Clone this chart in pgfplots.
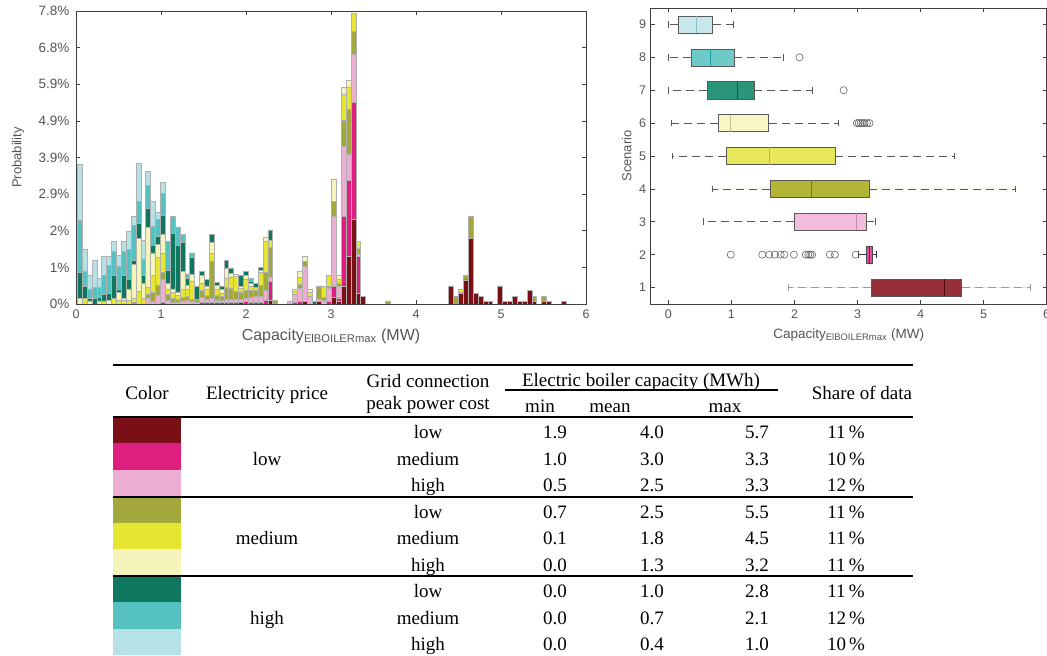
\documentclass[border=0pt]{standalone}
\usepackage{pgfplots}
\pgfplotsset{compat=1.18}
\usepackage{pgfplotstable}
\usepgfplotslibrary{statistics}
\usepackage{fontspec}
\setmainfont{Liberation Serif}
\newfontfamily\sansax{Liberation Sans}

\definecolor{c1}{HTML}{7A1016}
\definecolor{c2}{HTML}{DF1F80}
\definecolor{c3}{HTML}{ECAED0}
\definecolor{c4}{HTML}{A2A83A}
\definecolor{c5}{HTML}{E6E532}
\definecolor{c6}{HTML}{F5F4BB}
\definecolor{c7}{HTML}{0E775D}
\definecolor{c8}{HTML}{55C2C1}
\definecolor{c9}{HTML}{B6E1E6}
\definecolor{b1}{HTML}{952F39}
\definecolor{b2}{HTML}{E84A9C}
\definecolor{b3}{HTML}{F0BEDB}
\definecolor{b4}{HTML}{B2B536}
\definecolor{b5}{HTML}{E8E85C}
\definecolor{b6}{HTML}{F7F6C4}
\definecolor{b7}{HTML}{2B957A}
\definecolor{b8}{HTML}{6EC9C9}
\definecolor{b9}{HTML}{C7E8EB}
\definecolor{m1}{HTML}{5A0A10}
\definecolor{m2}{HTML}{A0105A}
\definecolor{m3}{HTML}{C08AA8}
\definecolor{m4}{HTML}{7A7E20}
\definecolor{m5}{HTML}{B8B830}
\definecolor{m6}{HTML}{C8C690}
\definecolor{m7}{HTML}{0A5A45}
\definecolor{m8}{HTML}{1AA0A0}
\definecolor{m9}{HTML}{90C0C5}
\definecolor{axc}{HTML}{404040}
\definecolor{tlc}{HTML}{555555}

\pgfplotstableread{
x s1 s2 s3 s4 s5 s6 s7 s8 s9
0.045 0 0 0 0 0 0.15 0.70 1.38 1.48
0.1025 0 0 0 0 0.15 0 0.31 0.40 0.59
0.16 0 0 0 0 0 0.08 0.07 0.25 0.35
0.2175 0 0 0 0 0 0 0.15 0.30 0.71
0.275 0 0 0 0 0 0.08 0.10 0.25 0.25
0.3325 0 0 0 0 0.08 0 0.18 0.50 0.52
0.39 0 0 0 0 0 0.10 0.18 0.75 0.25
0.4475 0 0 0 0 0.15 0 0.62 0.62 0.27
0.505 0 0 0 0 0.10 0.20 0.10 0.60 0.30
0.5625 0 0 0 0 0.10 0.05 0.60 0.66 0.25
0.62 0 0 0 0 0.10 0.30 0.25 0.80 0.49
0.6775 0 0 0 0.05 0.10 0.90 0.10 0.95 0.24
0.735 0 0 0 0 0.33 1.42 0.40 0.58 1.00
0.7925 0 0 0 0 0.15 0.40 0.20 0.45 0.50
0.85 0 0 0.15 0.10 0.20 1.60 0.50 0.60 0.37
0.9075 0 0 0.06 0.25 0.45 0.60 0.20 0.50 0.66
0.965 0 0 0.24 0.25 0.75 0.35 0.20 0.45 0.20
1.0225 0 0.05 0.60 0.20 0.50 0.50 0.50 0.60 0.28
1.08 0 0 0.10 0.15 0.15 0.15 0.35 0.77 0
1.1375 0 0 0.05 0.10 0.15 0.10 1.48 0.46 0
1.195 0 0 0.05 0.07 0.10 0.10 1.24 0.49 0
1.2525 0 0 0.08 0.10 0.20 0.48 0.78 0.21 0
1.31 0 0 0.09 0.10 0.20 0.10 0.18 0.12 0
1.3675 0 0 0.07 0.05 0.47 0.20 0.46 0.11 0
1.425 0 0 0.05 0.06 0 0 0.37 0 0
1.4825 0 0.05 0.12 0.20 0.18 0.20 0.11 0 0
1.54 0 0.05 0.08 0.10 0.15 0.10 0.18 0 0
1.5975 0 0.04 0.10 1.00 0.20 0.30 0.21 0 0
1.655 0 0.04 0.06 0.14 0.15 0.10 0.08 0 0
1.7125 0 0.04 0.06 0.10 0.08 0.10 0.10 0 0
1.77 0 0.05 0.08 0.30 0.25 0.28 0.20 0 0
1.8275 0 0.04 0.08 0.30 0.30 0.10 0.14 0 0
1.885 0 0.05 0.08 0.20 0.40 0.05 0 0 0
1.9425 0.05 0 0.07 0.20 0.10 0.05 0.30 0 0
2.0 0 0.06 0.10 0.20 0.30 0.10 0.10 0 0
2.0575 0 0.05 0.12 0.20 0.10 0.08 0.05 0.08 0
2.115 0 0.05 0.15 0.15 0.10 0 0.10 0 0
2.1725 0 0.05 0.15 0.30 0.35 0.05 0.08 0 0
2.23 0 0.10 0.25 0.50 0.82 0.10 0 0 0
2.2875 0.10 0.50 0.10 0.80 0.20 0 0.27 0 0
2.345 0 0 0 0.10 0 0 0 0 0
2.5175 0 0 0.08 0 0 0 0 0 0
2.575 0 0.05 0.20 0 0.08 0.06 0 0 0
2.6325 0 0.06 0.35 0.10 0.20 0.15 0 0 0
2.69 0.06 0 0.95 0.13 0 0.12 0 0 0
2.7475 0 0 0.20 0 0.10 0.09 0 0 0
2.805 0 0 0 0 0 0 0.08 0 0
2.8625 0.06 0 0.06 0.36 0 0 0 0 0
2.92 0 0 0.10 0.08 0.30 0 0 0 0
2.9775 0 0.06 0.35 0.06 0.30 0 0 0 0
3.035 0.17 0.31 1.85 0.40 0 0.59 0 0 0
3.0925 0.06 0.10 0.31 0.09 0.09 0.12 0 0 0
3.15 0.48 1.85 1.86 0.69 0.69 0.20 0 0 0
3.2075 1.26 2.04 0.69 1.19 0.58 0.20 0 0 0
3.265 2.24 3.12 1.29 0.60 0.49 0 0 0 0
3.3225 0.28 0.98 0.05 0.17 0.18 0 0 0 0
3.38 0.20 0 0 0 0 0 0 0 0
3.6675 0 0 0 0.08 0 0 0 0 0
4.415 0.48 0 0 0 0 0 0 0 0
4.4725 0 0 0 0.20 0 0 0 0 0
4.53 0.28 0 0 0.03 0.08 0 0 0 0
4.5875 0.64 0 0 0.13 0 0 0 0 0
4.645 1.75 0 0 0.59 0 0 0 0 0
4.7025 0.27 0 0 0 0 0 0 0 0
4.76 0.20 0 0 0 0 0 0 0 0
4.8175 0.06 0 0 0 0 0 0 0 0
4.875 0.06 0 0 0 0 0 0 0 0
4.99 0.48 0 0 0 0 0 0 0 0
5.0475 0.06 0 0 0 0 0 0 0 0
5.105 0.06 0 0 0 0 0 0 0 0
5.1625 0.20 0 0 0 0 0 0 0 0
5.22 0.06 0 0 0 0 0 0 0 0
5.2775 0.06 0 0 0 0 0 0 0 0
5.335 0.37 0 0 0 0 0 0 0 0
5.3925 0.07 0 0 0.13 0 0 0 0 0
5.5075 0.07 0 0 0.13 0 0 0 0 0
5.565 0.06 0 0 0 0 0 0 0 0
5.7375 0.06 0 0 0 0 0 0 0 0
}\histdata

\pgfplotsset{
  panel/.style={
    scale only axis,
    axis line style={axc, line width=0.7pt},
    tick style={axc, line width=0.6pt},
    major tick length=4pt,
    tick align=inside,
    /pgf/number format/assume math mode=true,
    tick label style={font=\sansax\fontsize{12.5}{14}\selectfont, text=tlc},
  },
}

\begin{document}
\begin{tikzpicture}
\path[use as bounding box] (0,0) rectangle (1047pt,656pt);

% ---------------- histogram ----------------
\begin{axis}[panel,
  at={(76pt,352pt)}, anchor=south west,
  width=510pt, height=293pt,
  xmin=0, xmax=6, ymin=0, ymax=7.8,
  ybar stacked, bar width=0.0575,
  xtick={0,1,2,3,4,5,6},
  ytick={0,0.975,1.95,2.925,3.9,4.875,5.85,6.825,7.8},
  yticklabels={0\%,1\%,2\%,2.9\%,3.9\%,4.9\%,5.9\%,6.8\%,7.8\%},
  xticklabel style={yshift=-2pt},
  yticklabel style={xshift=-3pt, font=\sansax\fontsize{13.5}{15}\selectfont},
  xlabel={Capacity\textsubscript{ElBOILERmax} (MW)},
  ylabel={Probability},
  every axis x label/.style={at={(axis description cs:0.5,-0.1229)}, anchor=base, font=\sansax\fontsize{16}{18}\selectfont, text=tlc},
  every axis y label/.style={at={(axis description cs:-0.1137,0.5)}, anchor=center, rotate=90, font=\sansax\fontsize{13}{15}\selectfont, text=tlc},
  every axis plot/.append style={draw=gray!62, line width=0.8pt},
]
\addplot[fill=c1] table[x=x,y=s1]{\histdata};
\addplot[fill=c2] table[x=x,y=s2]{\histdata};
\addplot[fill=c3] table[x=x,y=s3]{\histdata};
\addplot[fill=c4] table[x=x,y=s4]{\histdata};
\addplot[fill=c5] table[x=x,y=s5]{\histdata};
\addplot[fill=c6] table[x=x,y=s6]{\histdata};
\addplot[fill=c7] table[x=x,y=s7]{\histdata};
\addplot[fill=c8] table[x=x,y=s8]{\histdata};
\addplot[fill=c9] table[x=x,y=s9]{\histdata};
\end{axis}

% ---------------- boxplots ----------------
\begin{axis}[panel,
  at={(650.7pt,352pt)}, anchor=south west,
  width=396pt, height=296pt,
  xmin=-0.28, xmax=6, ymin=0.5, ymax=9.5,
  xtick={0,1,2,3,4,5,6}, ytick={1,2,3,4,5,6,7,8,9},
  xticklabel style={yshift=-2pt},
  yticklabel style={xshift=-1pt},
  xlabel={Capacity\textsubscript{ElBOILERmax} (MW)},
  ylabel={Scenario},
  every axis x label/.style={at={(axis description cs:0.5,-0.1149)}, anchor=base, font=\sansax\fontsize{13.5}{15}\selectfont, text=tlc},
  every axis y label/.style={at={(axis description cs:-0.0606,0.5)}, anchor=center, rotate=90, font=\sansax\fontsize{13}{15}\selectfont, text=tlc},
  boxplot/draw direction=x,
  boxplot/box extend=0.52,
  boxplot/whisker extend=0.2,
  boxplot/every whisker/.style={draw=black!65, line width=0.7pt, dash pattern=on 8pt off 5pt},
]
\addplot[boxplot prepared={draw position=9, lower whisker=0, lower quartile=0.16, median=0.44, upper quartile=0.70, upper whisker=1.03},
  fill=b9, draw=black!65, boxplot/every median/.style={draw=m9, line width=0.8pt}] coordinates {};
\addplot[boxplot prepared={draw position=8, lower whisker=0, lower quartile=0.36, median=0.67, upper quartile=1.04, upper whisker=1.83},
  fill=b8, draw=black!65, boxplot/every median/.style={draw=m8, line width=0.8pt}] coordinates {};
\addplot[boxplot prepared={draw position=7, lower whisker=0, lower quartile=0.62, median=1.10, upper quartile=1.36, upper whisker=2.29},
  fill=b7, draw=black!65, boxplot/every median/.style={draw=m7, line width=0.8pt}] coordinates {};
\addplot[boxplot prepared={draw position=6, lower whisker=0.05, lower quartile=0.79, median=0.98, upper quartile=1.59, upper whisker=2.70},
  fill=b6, draw=black!65, boxplot/every median/.style={draw=m6, line width=0.8pt}] coordinates {};
\addplot[boxplot prepared={draw position=5, lower whisker=0.06, lower quartile=0.92, median=1.61, upper quartile=2.65, upper whisker=4.53},
  fill=b5, draw=black!65, boxplot/every median/.style={draw=m5, line width=0.8pt}] coordinates {};
\addplot[boxplot prepared={draw position=4, lower whisker=0.69, lower quartile=1.61, median=2.27, upper quartile=3.18, upper whisker=5.51},
  fill=b4, draw=black!65, boxplot/every median/.style={draw=m4, line width=0.8pt}] coordinates {};
\addplot[boxplot prepared={draw position=3, lower whisker=0.56, lower quartile=2.00, median=2.98, upper quartile=3.14, upper whisker=3.29},
  fill=b3, draw=black!65, boxplot/every median/.style={draw=m3, line width=0.8pt}] coordinates {};
\addplot[boxplot prepared={draw position=2, lower whisker=3.02, lower quartile=3.13, median=3.19, upper quartile=3.23, upper whisker=3.30},
  fill=b2, draw=black!70, boxplot/every median/.style={draw=m2, line width=0.8pt},
  boxplot/every whisker/.style={draw=black!80, line width=0.7pt, solid}] coordinates {};
\addplot[boxplot prepared={draw position=1, lower whisker=1.90, lower quartile=3.22, median=4.38, upper quartile=4.65, upper whisker=5.75},
  fill=b1, draw=black!65, boxplot/every median/.style={draw=m1, line width=0.8pt},
  boxplot/every whisker/.style={draw=black!40, line width=0.9pt, dash pattern=on 8pt off 5pt}] coordinates {};
% outliers
\addplot[only marks, mark=o, mark size=3.6pt, mark options={draw=black!60, line width=0.6pt}] coordinates {
(2.08,8) (2.78,7)
(2.99,6) (3.02,6) (3.05,6) (3.08,6) (3.11,6) (3.15,6) (3.19,6)
(0.99,2) (1.49,2) (1.60,2) (1.69,2) (1.78,2) (1.84,2) (1.99,2) (2.18,2) (2.22,2) (2.25,2) (2.28,2) (2.56,2) (2.64,2) (2.97,2)
};
\end{axis}

% ---------------- table ----------------
\begin{scope}[every node/.style={font=\fontsize{19}{22}\selectfont, inner sep=0pt, anchor=base}]
% swatches
\fill[c1] (113pt,213pt) rectangle (181pt,238pt);
\fill[c2] (113pt,186pt) rectangle (181pt,213pt);
\fill[c3] (113pt,160pt) rectangle (181pt,186pt);
\fill[c4] (113pt,133pt) rectangle (181pt,158pt);
\fill[c5] (113pt,107pt) rectangle (181pt,133pt);
\fill[c6] (113pt,81pt) rectangle (181pt,107pt);
\fill[c7] (113pt,54pt) rectangle (181pt,79pt);
\fill[c8] (113pt,27pt) rectangle (181pt,54pt);
\fill[c9] (113pt,1pt) rectangle (181pt,27pt);
% rules
\draw[line width=1.8pt] (113pt,291pt) -- (913pt,291pt);
\draw[line width=1.3pt] (505pt,266pt) -- (778pt,266pt);
\draw[line width=1.5pt] (113pt,239pt) -- (913pt,239pt);
\draw[line width=1.5pt] (113pt,159pt) -- (913pt,159pt);
\draw[line width=1.5pt] (113pt,80pt) -- (913pt,80pt);
% header
\node at (147pt,256pt) {Color};
\node at (267pt,256pt) {Electricity price};
\node at (428pt,268pt) {Grid connection};
\node at (428pt,246pt) {peak power cost};
\node at (641pt,269pt) {Electric boiler capacity (MWh)};
\node at (540pt,243pt) {min};
\node at (610pt,243pt) {mean};
\node at (725pt,243pt) {max};
\node at (862pt,256pt) {Share of data};
% electricity price
\node at (267pt,190.5pt) {low};
\node at (267pt,111.5pt) {medium};
\node at (267pt,31.5pt) {high};
% grid cost
\node at (428pt,217.5pt) {low};
\node at (428pt,190.5pt) {medium};
\node at (428pt,164.5pt) {high};
\node at (428pt,137.5pt) {low};
\node at (428pt,111.5pt) {medium};
\node at (428pt,84.5pt) {high};
\node at (428pt,58.5pt) {low};
\node at (428pt,31.5pt) {medium};
\node at (428pt,5.5pt) {high};
% numbers
\node at (555pt,217.5pt) {1.9}; \node at (652pt,217.5pt) {4.0}; \node at (757pt,217.5pt) {5.7}; \node at (846pt,217.5pt) {11\,\%};
\node at (555pt,190.5pt) {1.0}; \node at (652pt,190.5pt) {3.0}; \node at (757pt,190.5pt) {3.3}; \node at (846pt,190.5pt) {10\,\%};
\node at (555pt,164.5pt) {0.5}; \node at (652pt,164.5pt) {2.5}; \node at (757pt,164.5pt) {3.3}; \node at (846pt,164.5pt) {12\,\%};
\node at (555pt,137.5pt) {0.7}; \node at (652pt,137.5pt) {2.5}; \node at (757pt,137.5pt) {5.5}; \node at (846pt,137.5pt) {11\,\%};
\node at (555pt,111.5pt) {0.1}; \node at (652pt,111.5pt) {1.8}; \node at (757pt,111.5pt) {4.5}; \node at (846pt,111.5pt) {11\,\%};
\node at (555pt,84.5pt) {0.0}; \node at (652pt,84.5pt) {1.3}; \node at (757pt,84.5pt) {3.2}; \node at (846pt,84.5pt) {11\,\%};
\node at (555pt,58.5pt) {0.0}; \node at (652pt,58.5pt) {1.0}; \node at (757pt,58.5pt) {2.8}; \node at (846pt,58.5pt) {11\,\%};
\node at (555pt,31.5pt) {0.0}; \node at (652pt,31.5pt) {0.7}; \node at (757pt,31.5pt) {2.1}; \node at (846pt,31.5pt) {12\,\%};
\node at (555pt,5.5pt) {0.0}; \node at (652pt,5.5pt) {0.4}; \node at (757pt,5.5pt) {1.0}; \node at (846pt,5.5pt) {10\,\%};
\end{scope}
\end{tikzpicture}
\end{document}
